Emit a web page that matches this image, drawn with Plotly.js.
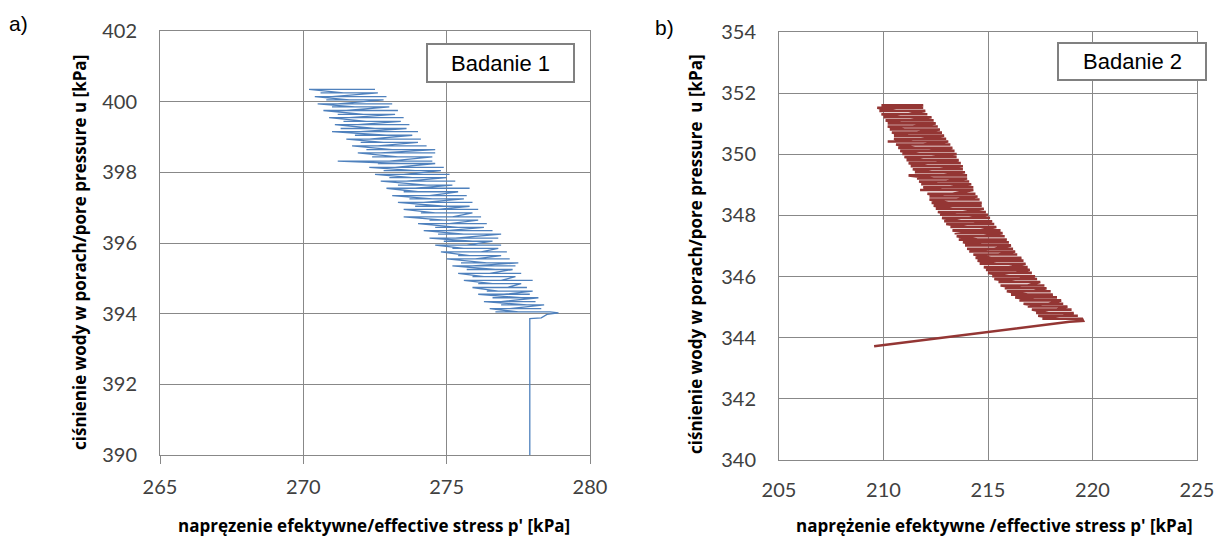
<!DOCTYPE html>
<html>
<head>
<meta charset="utf-8">
<script src="https://cdn.plot.ly/plotly-3.0.1.min.js"></script>
<style>html,body{margin:0;padding:0;background:#fff;}#chart{width:1218px;height:537px;}</style>
</head>
<body>
<div id="chart"></div>
<script>
// ---------- Badanie 1 ----------
// initial part (rise of pore pressure at constant p')
const b1_start_p = [277.9, 277.9, 278.3, 278.5, 278.9];
const b1_start_u = [385.0, 393.86, 393.88, 393.98, 394.02];
// cyclic part: pore-pressure levels, with the p' extremes and the p' where each sweep ends
const b1_u = [394.05,394.14,394.25,394.34,394.45,394.55,394.64,394.74,394.85,394.94,
  395.05,395.14,395.25,395.35,395.44,395.55,395.64,395.75,395.85,395.94,
  396.05,396.14,396.25,396.35,396.44,396.55,396.65,396.74,396.85,396.95,
  397.04,397.15,397.25,397.34,397.45,397.55,397.64,397.75,397.85,397.94,
  398.05,398.14,398.25,398.32,398.44,398.55,398.64,398.75,398.85,398.94,
  399.05,399.15,399.24,399.35,399.44,399.55,399.64,399.75,399.85,399.94,
  400.05,400.14,400.25,400.35];
const b1_left = [276.7,276.5,276.9,276.3,276.6,276.1,276.4,275.9,276.1,275.6,
  275.9,275.4,275.7,275.2,275.5,275.0,275.4,274.8,275.2,274.6,
  274.9,274.4,274.7,274.2,274.6,274.0,274.4,273.5,274.1,273.5,
  273.9,273.3,273.7,273.1,273.5,272.9,273.3,272.7,273.0,272.5,
  272.8,272.3,272.6,271.2,272.4,271.9,272.2,271.7,272.0,271.5,
  271.8,271.0,271.3,271.1,271.4,270.9,271.2,270.7,271.0,270.5,
  270.8,270.4,270.6,270.2];
const b1_right = [278.6,278.3,278.4,278.1,278.2,277.9,278.0,277.8,277.6,278.0,
  277.4,277.6,277.3,277.4,277.5,277.2,276.9,277.1,276.8,276.9,
  276.6,276.8,276.9,276.6,276.3,276.4,276.1,276.2,275.9,276.1,
  275.8,275.9,275.6,275.7,275.4,275.8,275.2,275.3,275.0,275.1,
  274.8,274.9,274.6,274.5,274.5,274.6,274.6,274.3,274.0,274.1,
  273.8,274.0,273.6,273.7,273.4,273.5,273.2,273.3,273.0,273.1,
  272.8,272.9,272.6,272.5];
const b1_mid = [277.5,277.2,277.8,276.9,277.6,277.0,276.8,277.1,276.6,276.9,
  276.3,276.5,276.7,275.9,276.4,276.0,275.8,276.2,275.6,275.7,
  275.9,275.3,275.6,275.0,275.4,275.1,274.9,275.2,274.6,274.7,
  274.9,274.2,274.5,274.4,274.0,273.9,274.3,273.6,273.8,273.5,
  273.9,273.2,273.4,273.0,273.3,272.7,273.1,272.6,272.8,272.3,
  272.9,272.0,272.5,271.9,272.2,271.6,272.1,271.5,271.8,271.2,
  271.6,271.0,271.4,271.3];

// ---------- Badanie 2 ----------
const b2_start_p = [209.55, 218.9, 219.55];
const b2_start_u = [343.72, 344.52, 344.55];
const b2_u = [344.62,344.72,344.81,344.92,345.02,345.11,345.22,345.32,345.41,345.52,
  345.62,345.71,345.82,345.92,346.01,346.12,346.22,346.31,346.42,346.52,
  346.61,346.72,346.82,346.91,347.02,347.12,347.21,347.32,347.42,347.51,
  347.62,347.72,347.81,347.92,348.02,348.11,348.22,348.32,348.41,348.52,
  348.62,348.71,348.83,348.92,349.02,349.11,349.21,349.31,349.41,349.51,
  349.61,349.71,349.81,349.91,350.01,350.11,350.21,350.32,350.42,350.51,
  350.61,350.71,350.81,350.91,351.01,351.11,351.21,351.31,351.42,351.52,351.60];
const b2_left = [217.6,217.4,217.3,217.1,216.9,216.7,216.5,216.3,216.1,215.9,
  215.8,215.6,215.5,215.3,215.2,215.0,214.9,214.8,214.6,214.5,
  214.4,214.3,214.1,214.0,213.9,213.8,213.6,213.5,213.4,213.3,
  213.2,213.0,212.9,212.8,212.7,212.6,212.5,212.4,212.3,212.2,
  212.2,212.1,211.75,211.9,211.8,211.7,211.6,211.2,211.5,211.4,
  211.3,211.2,211.1,211.0,210.9,210.8,210.7,210.6,210.2,210.5,
  210.5,210.4,210.3,210.2,210.2,210.1,210.0,209.9,209.8,209.7,209.9];
const b2_right = [219.5,219.3,219.1,219.0,218.8,218.6,218.5,218.3,218.1,218.0,
  217.8,217.7,217.5,217.35,217.25,217.1,217.0,216.9,216.8,216.7,
  216.6,216.4,216.3,216.2,216.1,216.0,215.9,215.8,215.7,215.6,
  215.4,215.3,215.2,215.1,215.0,214.9,214.8,214.7,214.7,214.6,
  214.5,214.4,214.3,214.3,214.2,214.1,214.0,214.0,213.9,213.8,
  213.8,213.7,213.6,213.5,213.5,213.4,213.3,213.2,213.1,213.0,
  212.9,212.8,212.7,212.6,212.5,212.4,212.3,212.1,212.0,211.9,211.9];
const b2_mid = [218.4,218.6,217.9,218.3,217.6,217.9,217.3,217.5,216.9,217.2,
  216.6,216.9,216.3,216.5,216.0,216.3,215.7,216.0,215.4,215.8,
  215.2,215.5,215.0,215.3,214.7,215.0,214.5,214.8,214.2,214.6,
  214.0,214.3,213.7,214.1,213.5,213.8,213.3,213.7,213.1,213.5,
  212.9,213.3,212.8,213.2,212.6,213.0,212.4,212.9,212.3,212.7,
  212.1,212.5,211.9,212.3,211.7,212.1,211.5,211.9,211.4,211.8,
  211.2,211.6,211.0,211.4,210.9,211.3,210.8,211.2,210.6,211.0,210.8];

// ---------- texts ----------
const xTitle1 = "napręzenie efektywne/effective stress p' [kPa]";
const xTitle2 = "naprężenie efektywne /effective stress p' [kPa]";
const yTitle1 = "ciśnienie wody w porach/pore pressure u [kPa]";
const yTitle2 = "ciśnienie wody w porach/pore pressure  u [kPa]";
const label1 = "Badanie 1";
const label2 = "Badanie 2";

// build the path: at each pressure level p' sweeps to one extreme, then the other,
// and stops at the "mid" value before the pressure moves to the next level
function buildPath(startP, startU, levels, left, right, mid) {
  const xs = startP.slice(), ys = startU.slice();
  for (let i = 0; i < levels.length; i++) {
    if (i % 2 === 0) { xs.push(right[i], left[i], mid[i]); }
    else { xs.push(left[i], right[i], mid[i]); }
    ys.push(levels[i], levels[i], levels[i]);
  }
  return {x: xs, y: ys};
}
const path1 = buildPath(b1_start_p, b1_start_u, b1_u, b1_left, b1_right, b1_mid);
const path2 = buildPath(b2_start_p, b2_start_u, b2_u, b2_left, b2_right, b2_mid);

const W = 1218, H = 537;
const px = x => x / W;
const py = y => 1 - y / H;

const grid = '#888888';
const tickFont = {family: 'Lato, "Open Sans", sans-serif', size: 20, color: '#404040'};
const titleFont = {family: '"Open Sans", Lato, sans-serif', size: 17, color: '#000000'};
const arial = '"Liberation Sans", Arial, sans-serif';

function ax(extra) {
  return Object.assign({
    showgrid: true, gridcolor: grid, gridwidth: 1,
    showline: true, linecolor: grid, linewidth: 1, mirror: true,
    zeroline: false, tickfont: tickFont, fixedrange: true
  }, extra);
}

const data = [
  {x: path1.x, y: path1.y, type: 'scatter', mode: 'lines', xaxis: 'x', yaxis: 'y',
   line: {color: '#4F81BD', width: 1.3}, hoverinfo: 'skip'},
  {x: path2.x, y: path2.y, type: 'scatter', mode: 'lines', xaxis: 'x2', yaxis: 'y2',
   line: {color: '#943634', width: 2.6}, hoverinfo: 'skip'}
];

const layout = {
  width: W, height: H,
  margin: {l: 0, r: 0, t: 0, b: 0},
  paper_bgcolor: '#ffffff', plot_bgcolor: '#ffffff',
  showlegend: false,
  xaxis: ax({domain: [px(160), px(590)], range: [265, 280], dtick: 5, tick0: 265,
    ticks: 'outside', ticklen: 8, tickcolor: grid, ticklabelstandoff: 6, anchor: 'y'}),
  yaxis: ax({domain: [py(455), py(31)], range: [390, 402], dtick: 2, tick0: 390,
    ticklabelstandoff: 18, anchor: 'x'}),
  xaxis2: ax({domain: [px(779), px(1197)], range: [205, 225], dtick: 5, tick0: 205,
    ticklabelstandoff: 12, anchor: 'y2'}),
  yaxis2: ax({domain: [py(460), py(32)], range: [340, 354], dtick: 2, tick0: 340,
    ticklabelstandoff: 18, anchor: 'x2'}),
  shapes: [
    {type: 'rect', xref: 'paper', yref: 'paper', x0: px(427), x1: px(574), y0: py(82), y1: py(44),
     line: {color: '#808080', width: 2}, fillcolor: '#ffffff', layer: 'above'},
    {type: 'rect', xref: 'paper', yref: 'paper', x0: px(1058), x1: px(1206), y0: py(80), y1: py(43),
     line: {color: '#808080', width: 2}, fillcolor: '#ffffff', layer: 'above'}
  ],
  annotations: [
    {text: label1, xref: 'paper', yref: 'paper', x: px(500.5), y: py(63), showarrow: false,
     xanchor: 'center', yanchor: 'middle', font: {family: arial, size: 22, color: '#000'}},
    {text: label2, xref: 'paper', yref: 'paper', x: px(1132), y: py(61.5), showarrow: false,
     xanchor: 'center', yanchor: 'middle', font: {family: arial, size: 22, color: '#000'}},
    {text: 'a)', xref: 'paper', yref: 'paper', x: px(7), y: py(23), showarrow: false,
     xanchor: 'left', yanchor: 'middle', font: {family: arial, size: 21, color: '#000'}},
    {text: 'b)', xref: 'paper', yref: 'paper', x: px(653), y: py(27), showarrow: false,
     xanchor: 'left', yanchor: 'middle', font: {family: arial, size: 21, color: '#000'}},
    {text: '<b>' + xTitle1 + '</b>', xref: 'paper', yref: 'paper', x: px(374), y: py(525), showarrow: false,
     xanchor: 'center', yanchor: 'middle', font: titleFont},
    {text: '<b>' + xTitle2 + '</b>', xref: 'paper', yref: 'paper', x: px(994), y: py(525), showarrow: false,
     xanchor: 'center', yanchor: 'middle', font: titleFont},
    {text: '<b>' + yTitle1 + '</b>', xref: 'paper', yref: 'paper', x: px(79), y: py(253), showarrow: false,
     textangle: -90, xanchor: 'center', yanchor: 'middle', font: titleFont},
    {text: '<b>' + yTitle2 + '</b>', xref: 'paper', yref: 'paper', x: px(695), y: py(254), showarrow: false,
     textangle: -90, xanchor: 'center', yanchor: 'middle', font: titleFont}
  ]
};

Plotly.newPlot('chart', data, layout, {staticPlot: true, displayModeBar: false});
</script>
</body>
</html>
